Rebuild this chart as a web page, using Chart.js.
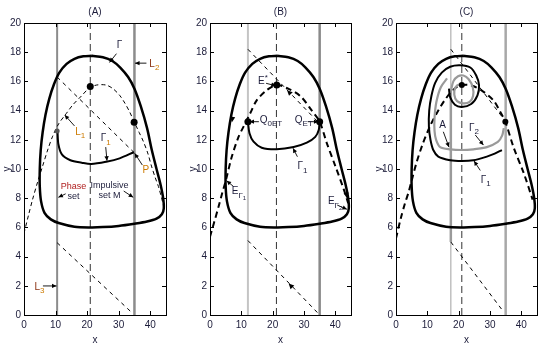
<!DOCTYPE html>
<html>
<head>
<meta charset="UTF-8">
<title>Phase portraits (A) (B) (C)</title>
<script src="https://cdn.jsdelivr.net/npm/chart.js@4.4.0/dist/chart.umd.min.js"></script>
<style>
  body { margin: 0; background: #fff; }
  canvas { position: absolute; top: 0; }
</style>
</head>
<body>
<canvas id="chartA" width="180" height="351" style="left:0"></canvas>
<canvas id="chartB" width="180" height="351" style="left:186px"></canvas>
<canvas id="chartC" width="173" height="351" style="left:372px"></canvas>
<script>
// ---- axes ----
const panelTitles = ['(A)', '(B)', '(C)'];
const xTicks = [0, 10, 20, 30, 40];
const yTicks = [0, 2, 4, 6, 8, 10, 12, 14, 16, 18, 20];

// ---- curves (x, y) ----
const gammaOuter = [[21.5,17.75],[25,17.65],[28,17.4],[30.5,16.95],[33,16.3],[35,15.5],[37,14.3],[39,12.8],[40.5,11.3],[42,10.0],[43.3,8.9],[44.1,8.0],[44.3,7.3],[43.7,6.9],[42,6.6],[39,6.4],[35,6.25],[30,6.1],[25,6.02],[21,6.0],[16,6.05],[11,6.3],[8.5,6.55],[6.5,7.0],[5.4,7.8],[5.0,8.8],[5.0,10.0],[5.3,11.3],[5.9,12.5],[6.8,13.7],[8.0,14.8],[9.5,15.8],[11.2,16.6],[13.5,17.2],[16,17.55],[18.8,17.72],[21.5,17.75]];

// panel A
const gamma1A = [[10.6,12.65],[10.9,11.7],[12,11.0],[14.7,10.6],[18.3,10.43],[21.3,10.34],[26.1,10.5],[30.3,10.73],[34.8,11.15]];
const isoclineA = [[0,5.6],[1.5,6.9],[2.7,7.9],[4.3,9.1],[5.9,10.2],[7.5,11.3],[9,12.2],[11,13.1],[13.4,13.8],[15.5,14.4],[18.2,15.0],[20.7,15.55],[23,15.75],[26,15.75],[28.2,15.5],[30.3,15.05],[32,14.5],[33.5,13.9],[35.1,13.15],[36.5,12.5],[37.8,11.9],[39.2,11.1],[40.4,10.2],[41.6,9.4],[42.6,8.8],[43.5,8.1],[44.3,7.4]];
const imageUpperA = [[10.5,16.3],[35,11.1]];
const imageLowerA = [[10.5,4.95],[34,0.2]];
const phaseLineA = [[10.5,0],[10.5,20]];
const impulseLineA = [[35,0],[35,20]];
const midLineA = [[21,0],[21,20]];
const pointsA = [[21,15.65],[34.9,13.2]];
const pointsA2 = [[10.5,12.6]];

// panel B
const gamma1B = [[12.1,13.24],[12.6,12.45],[13.9,11.87],[16.5,11.46],[21.3,11.35],[26.7,11.5],[30.9,11.8],[33.6,12.2],[34.7,12.67],[35,13.24]];
const isoclineB = [[0,5.36],[1.4,6.4],[2.7,7.4],[3.9,8.35],[5.1,9.25],[6.9,10.8],[9.1,12.2],[10.7,12.9],[12.8,13.8],[14.9,14.7],[18.1,15.4],[21.3,15.75],[24.5,15.55],[28.8,15.0],[32.5,14.0],[35,13.24],[37.3,11.76],[40,10.2],[42.7,8.6],[44.1,7.65]];
const imageUpperB = [[12.1,18.2],[35,13.1]];
const imageLowerB = [[12.1,5.1],[34.8,0.05]];
const phaseLineB = [[12.1,0],[12.1,20]];
const impulseLineB = [[35,0],[35,20]];
const midLineB = [[21.2,0],[21.2,20]];
const pointsB = [[21.3,15.75],[12.1,13.24],[35,13.24]];

// panel C
const gamma1C = [[33.8,11.3],[31.5,11.05],[29,10.85],[24.7,10.6],[21,10.55],[17.3,10.6],[13.5,10.85],[11.9,11.3],[11.0,12.0],[10.5,12.9],[10.6,14.0],[11.3,15.0],[12.5,15.9],[14.6,16.6],[17.3,17.0],[20.5,17.1],[23.7,16.95],[25.6,16.4],[26.5,15.75],[26.0,15.05],[24.0,14.45],[21.0,14.25],[18.8,14.4],[17.3,14.9],[16.9,15.5]];
const gamma2C = [[16.3,16.2],[14.3,15.6],[12.9,14.6],[12.3,13.5],[12.3,12.6],[12.8,12.0],[14.1,11.5],[17.3,11.35],[21,11.3],[24.7,11.35],[29,11.5],[32.5,11.85],[33.9,12.3],[34.4,12.8]];
const spiralC = [[17.5,15.3],[18.3,16.0],[19.8,16.35],[21.5,16.4],[23.2,16.15],[24.5,15.6],[24.6,15.0],[23.5,14.6],[21.5,14.5],[19.5,14.65],[18.6,15.1],[19.0,15.6],[20.3,15.8],[21,15.7]];
const isoclineC = [[0,5.25],[1.5,6.6],[2.8,7.6],[4.0,8.4],[5.0,9.2],[6.5,10.4],[8.5,11.7],[11,13.0],[13.5,14.0],[15.5,14.7],[17.5,15.25],[19.3,15.6],[21,15.75],[23.7,15.75],[27.5,15.35],[31.1,14.7],[33.3,13.9],[34.9,13.24],[37.5,11.5],[40.8,9.7],[43.6,7.9]];
const imageUpperC = [[17.5,18.2],[35,13.25]];
const imageLowerC = [[17.5,5.0],[34.4,0.2]];
const phaseLineC = [[17.5,0],[17.5,20]];
const phaseSetC = [[17.5,5.0],[17.5,15.4]];
const impulseLineC = [[35,0],[35,20]];
const midLineC = [[21,0],[21,20]];
const pointsC = [[21,15.75],[34.9,13.24]];

// ---- annotations (data coordinates) ----
const labelsA = [
  {x:30.3, y:18.5, t:'Γ'},
  {x:40.6, y:17.2, t:'L', sub:'2', color:'#8a3010', subColor:'#cc7a00'},
  {x:17.1, y:12.55, t:'L', sub:'1', color:'#cc7a00'},
  {x:25.2, y:12.1, t:'Γ', sub:'1', subColor:'#cc7a00'},
  {x:38.6, y:9.93, t:'P', color:'#cc7a00'},
  {x:15.7, y:8.79, t:'Phase', color:'#b02020', size:9},
  {x:15.7, y:8.1, t:'set', size:9},
  {x:27.1, y:8.9, t:'Impulsive', size:9},
  {x:27.1, y:8.15, t:'set M', size:9},
  {x:4.2, y:1.9, t:'L', sub:'3', color:'#8a3010', subColor:'#cc7a00'}
];
const arrowsA = [
  {from:[29.3,17.9], to:[27.1,17.3]},
  {from:[38.8,17.25], to:[35.2,17.25]},
  {from:[16,12.95], to:[12.9,13.7]},
  {from:[25.9,11.5], to:[26.3,10.57]},
  {from:[37.5,10.27], to:[35.1,11.07]},
  {from:[13.2,8.3], to:[10.9,8.06]},
  {from:[31.6,8.49], to:[34.6,8.06]},
  {from:[6.0,1.99], to:[10.3,1.99]}
];
const labelsB = [
  {x:16.4, y:16.0, t:'E', sup:'*'},
  {x:17.1, y:13.36, t:'Q', sub:'0ET'},
  {x:28.3, y:13.36, t:'Q', sub:'ET'},
  {x:28.8, y:10.16, t:'Γ', sub:'1'},
  {x:8.0, y:8.45, t:'E', sub:'Γ', sub2:'1'},
  {x:38.7, y:7.76, t:'E', sub:'Γ', sub2:'2'}
];
const arrowsB = [
  {from:[17.9,15.87], to:[21.0,15.7]},
  {from:[15.6,13.24], to:[12.6,13.24]},
  {from:[31.2,13.24], to:[34.6,13.24]},
  {from:[27.9,10.84], to:[26.5,11.42]},
  {from:[7.5,8.8], to:[5.3,9.2]},
  {from:[40.6,7.53], to:[43.7,7.24]}
];
const headsB = [
  {at:[7.3,13.7], toward:[7.0,13.2]},
  {at:[25.6,15.18], toward:[24.6,15.4]},
  {at:[43.4,8.45], toward:[43.7,8.0]},
  {at:[26.1,1.94], toward:[25.1,2.16]}
];
const labelsC = [
  {x:14.9, y:13.0, t:'A'},
  {x:24.2, y:12.8, t:'Γ', sub:'2'},
  {x:27.9, y:9.25, t:'Γ', sub:'1'}
];
const arrowsC = [
  {from:[15.1,12.55], to:[16.9,11.5]},
  {from:[25.3,12.33], to:[27.9,11.64]},
  {from:[26.9,9.9], to:[24.9,10.55]}
];

// ---- drawing ----
const FONT = '"Liberation Sans Narrow", "Liberation Sans", Arial, sans-serif';
const INK = '#1c1c3a';

function pts(a) { return a.map(p => ({x: p[0], y: p[1]})); }
function curve(a, color, width, dash, tension) {
  return {data: pts(a), showLine: true, borderColor: color, borderWidth: width,
          borderDash: dash || [], tension: tension || 0, pointRadius: 0, fill: false};
}
function dots(a, color, r) {
  return {data: pts(a), showLine: false, pointRadius: r, pointBackgroundColor: color,
          pointBorderColor: color, pointBorderWidth: 0};
}

function head(ctx, x1, y1, x2, y2, size) {
  const ang = Math.atan2(y2 - y1, x2 - x1);
  ctx.beginPath();
  ctx.moveTo(x2, y2);
  ctx.lineTo(x2 - size * Math.cos(ang - 0.45), y2 - size * Math.sin(ang - 0.45));
  ctx.lineTo(x2 - size * Math.cos(ang + 0.45), y2 - size * Math.sin(ang + 0.45));
  ctx.closePath();
  ctx.fill();
}

function drawNote(ctx, px, py, n) {
  const size = n.size || 10;
  ctx.textBaseline = 'middle';
  ctx.textAlign = 'left';
  ctx.font = size + 'px ' + FONT;
  const w = ctx.measureText(n.t).width;
  let cx = px - w / 2;
  ctx.fillStyle = n.color || INK;
  ctx.fillText(n.t, cx, py);
  cx += w;
  if (n.sup) {
    ctx.font = (size - 2) + 'px ' + FONT;
    ctx.fillText(n.sup, cx, py - 4);
  }
  if (n.sub) {
    ctx.font = (size - 2) + 'px ' + FONT;
    ctx.fillStyle = n.subColor || n.color || INK;
    ctx.fillText(n.sub, cx, py + 4);
    const w2 = ctx.measureText(n.sub).width;
    if (n.sub2) {
      ctx.font = (size - 4) + 'px ' + FONT;
      ctx.fillText(n.sub2, cx + w2, py + 7);
    }
  }
}

const decor = {
  id: 'decor',
  afterDatasetsDraw(chart, args, opts) {
    const {ctx, chartArea: a, scales: {x, y}} = chart;
    ctx.save();
    // box and inward ticks
    ctx.strokeStyle = '#000';
    ctx.lineWidth = 1;
    ctx.strokeRect(Math.round(a.left) + 0.5, Math.round(a.top) + 0.5,
                   Math.round(a.right - a.left), Math.round(a.bottom - a.top));
    ctx.beginPath();
    x.ticks.forEach(t => {
      const p = Math.round(x.getPixelForValue(t.value)) + 0.5;
      ctx.moveTo(p, a.bottom); ctx.lineTo(p, a.bottom - 4);
      ctx.moveTo(p, a.top); ctx.lineTo(p, a.top + 4);
    });
    y.ticks.forEach(t => {
      const p = Math.round(y.getPixelForValue(t.value)) + 0.5;
      ctx.moveTo(a.left, p); ctx.lineTo(a.left + 4, p);
      ctx.moveTo(a.right, p); ctx.lineTo(a.right - 4, p);
    });
    ctx.stroke();
    // panel title
    ctx.fillStyle = INK;
    ctx.font = '10px ' + FONT;
    ctx.textAlign = 'center';
    ctx.textBaseline = 'middle';
    ctx.fillText(opts.title, (a.left + a.right) / 2, 12);
    // arrows with labels
    ctx.fillStyle = '#000';
    ctx.lineWidth = 0.9;
    (opts.arrows || []).forEach(ar => {
      const x1 = x.getPixelForValue(ar.from[0]), y1 = y.getPixelForValue(ar.from[1]);
      const x2 = x.getPixelForValue(ar.to[0]), y2 = y.getPixelForValue(ar.to[1]);
      ctx.beginPath(); ctx.moveTo(x1, y1); ctx.lineTo(x2, y2); ctx.stroke();
      head(ctx, x1, y1, x2, y2, 5);
    });
    (opts.heads || []).forEach(h => {
      const x1 = x.getPixelForValue(h.at[0]), y1 = y.getPixelForValue(h.at[1]);
      const x2 = x.getPixelForValue(h.toward[0]), y2 = y.getPixelForValue(h.toward[1]);
      head(ctx, x1, y1, x2, y2, 6);
    });
    (opts.labels || []).forEach(n => drawNote(ctx, x.getPixelForValue(n.x), y.getPixelForValue(n.y), n));
    ctx.restore();
  }
};

function makeChart(id, title, padRight, datasets, notes) {
  const tickFont = {family: FONT, size: 10};
  return new Chart(document.getElementById(id), {
    type: 'scatter',
    data: {datasets: datasets},
    options: {
      responsive: false,
      animation: false,
      events: [],
      layout: {padding: {left: 0, right: padRight, top: 23, bottom: 0}},
      plugins: {
        legend: {display: false},
        tooltip: {enabled: false},
        decor: Object.assign({title: title}, notes)
      },
      scales: {
        x: {
          type: 'linear', min: 0, max: 45,
          grid: {display: false, drawTicks: false},
          border: {display: false},
          afterBuildTicks: s => { s.ticks = xTicks.map(v => ({value: v})); },
          afterFit: s => { s.height = 36; },
          ticks: {font: tickFont, color: INK, padding: 4, maxRotation: 0, autoSkip: false},
          title: {display: true, text: 'x', font: tickFont, color: INK, padding: {top: 0, bottom: 5}}
        },
        y: {
          type: 'linear', min: 0, max: 20,
          grid: {display: false, drawTicks: false},
          border: {display: false},
          afterBuildTicks: s => { s.ticks = yTicks.map(v => ({value: v})); },
          afterFit: s => { s.width = 24; },
          ticks: {font: tickFont, color: INK, padding: 3, autoSkip: false},
          title: {display: true, text: 'y', font: tickFont, color: INK, padding: {top: 1, bottom: 0}}
        }
      }
    },
    plugins: [decor]
  });
}

makeChart('chartA', panelTitles[0], 14, [
  dots(pointsA, '#000', 3.5),
  dots(pointsA2, '#555', 2.5),
  curve(gammaOuter, '#000', 2.5, null, 0.3),
  curve(gamma1A, '#000', 2, null, 0.3),
  curve(isoclineA, '#000', 1, [4, 3], 0.3),
  curve(imageUpperA, '#000', 1, [4, 4]),
  curve(imageLowerA, '#000', 1, [4, 4]),
  curve(midLineA, '#333', 1, [7, 4]),
  curve(phaseLineA, '#8c8c8c', 2),
  curve(impulseLineA, '#8c8c8c', 2.5)
], {labels: labelsA, arrows: arrowsA});

makeChart('chartB', panelTitles[1], 15, [
  dots(pointsB, '#000', 3.5),
  curve(gammaOuter, '#000', 2.5, null, 0.3),
  curve(gamma1B, '#000', 2, null, 0.3),
  curve(isoclineB, '#000', 2, [6, 4], 0.3),
  curve(imageUpperB, '#000', 1, [4, 4]),
  curve(imageLowerB, '#000', 1, [4, 4]),
  curve(midLineB, '#333', 1, [7, 4]),
  curve(phaseLineB, '#c4c4c4', 2),
  curve(impulseLineB, '#8a8a8a', 2.5)
], {labels: labelsB, arrows: arrowsB, heads: headsB});

makeChart('chartC', panelTitles[2], 8, [
  dots(pointsC, '#000', 3),
  curve(gammaOuter, '#000', 2.5, null, 0.3),
  curve(gamma1C, '#000', 2, null, 0.3),
  curve(gamma2C, '#9a9a9a', 2.2, null, 0.3),
  curve(spiralC, '#9a9a9a', 2.2, null, 0.3),
  curve(isoclineC, '#000', 2, [6, 4], 0.3),
  curve(imageUpperC, '#000', 1, [4, 4]),
  curve(imageLowerC, '#000', 1, [4, 4]),
  curve(midLineC, '#333', 1, [7, 4]),
  curve(phaseSetC, '#9a9a9a', 2.5),
  curve(phaseLineC, '#b0b0b0', 1.2),
  curve(impulseLineC, '#a8a8a8', 2.5)
], {labels: labelsC, arrows: arrowsC});
</script>
</body>
</html>
